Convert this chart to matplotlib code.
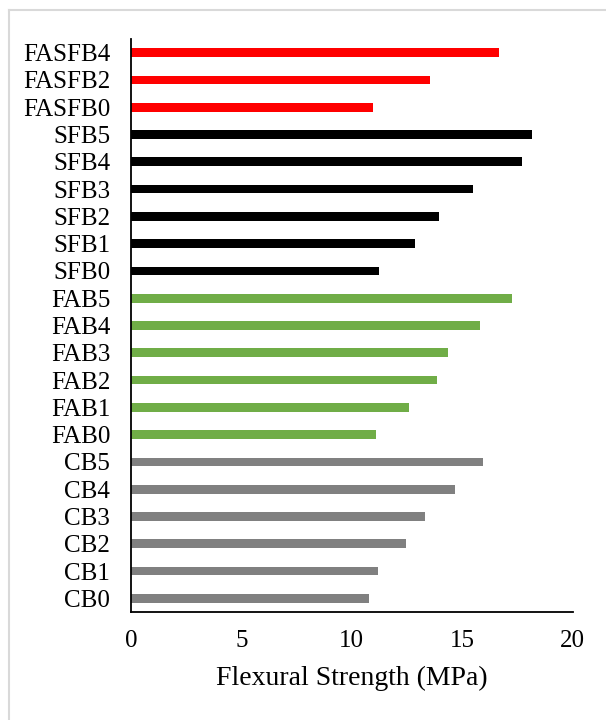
import matplotlib
matplotlib.use("Agg")
import matplotlib.pyplot as plt
from matplotlib.lines import Line2D

categories = ["CB0", "CB1", "CB2", "CB3", "CB4", "CB5",
              "FAB0", "FAB1", "FAB2", "FAB3", "FAB4", "FAB5",
              "SFB0", "SFB1", "SFB2", "SFB3", "SFB4", "SFB5",
              "FASFB0", "FASFB2", "FASFB4"]
cb_values = [10.78, 11.19, 12.45, 13.32, 14.67, 15.94]
fab_values = [11.10, 12.59, 13.86, 14.36, 15.81, 17.26]
sfb_values = [11.23, 12.86, 13.95, 15.49, 17.71, 18.16]
fasfb_values = [10.96, 13.54, 16.67]
xticks = [0, 5, 10, 15, 20]

values = cb_values + fab_values + sfb_values + fasfb_values
colors = (["#808080"] * len(cb_values) + ["#70AD47"] * len(fab_values)
          + ["#000000"] * len(sfb_values) + ["#FF0000"] * len(fasfb_values))

plt.rcParams['font.family'] = ['Liberation Serif', 'DejaVu Serif']

fig = plt.figure(figsize=(6.06, 7.2), dpi=100)
ax = fig.add_axes([131/606, 1 - 612/720, (572.7-131)/606, (612-39)/720])

pos = list(range(len(categories)))
ax.barh(pos, values, height=0.32, color=colors)
ax.set_ylim(-0.5, len(categories) - 0.5)
ax.set_xlim(0, 20)
ax.set_xticks(xticks)
ax.set_xticklabels([str(t) for t in xticks])
ax.set_yticks(pos)
ax.set_yticklabels(categories)
ax.tick_params(axis='y', length=0, pad=15, labelsize=18)
ax.tick_params(axis='x', length=0, pad=13, labelsize=18)
ax.set_xlabel("Flexural Strength (MPa)", fontsize=20, labelpad=10)
for s in ["top", "right"]:
    ax.spines[s].set_visible(False)
ax.spines["left"].set_linewidth(1.3)
ax.spines["bottom"].set_linewidth(1.3)

# outer chart-area border (only left and top edges fall inside the image)
fig.lines.append(Line2D([8.5/606, 8.5/606], [0, 1 - 10/720], transform=fig.transFigure,
                        color="#D9D9D9", linewidth=1.5))
fig.lines.append(Line2D([8.5/606, 1], [1 - 10/720, 1 - 10/720], transform=fig.transFigure,
                        color="#D9D9D9", linewidth=1.5))

fig.savefig("out.png", dpi=100)
